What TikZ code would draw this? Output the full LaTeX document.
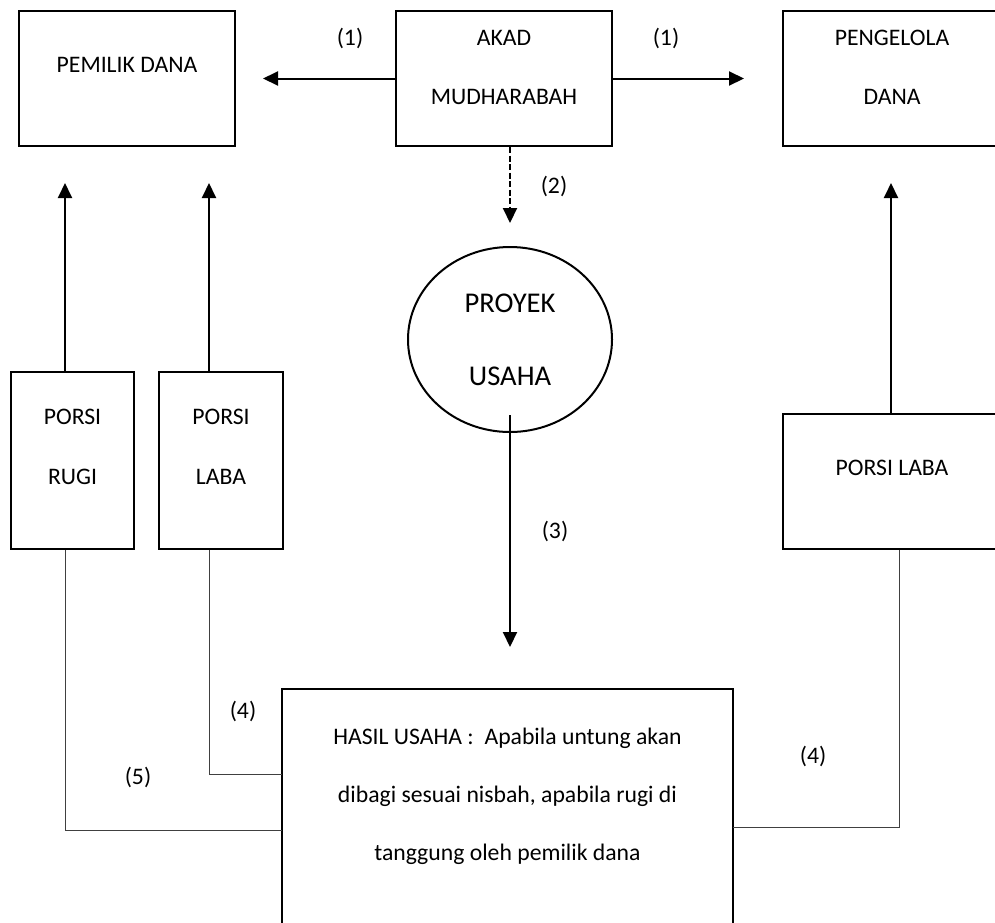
\documentclass[tikz,border=0pt]{standalone}
\usepackage{fontspec}
\setmainfont{Carlito}
\usetikzlibrary{arrows.meta,shapes.geometric}
\tikzset{
  boxnode/.style={draw=black, line width=2pt, rectangle, inner sep=0pt, minimum width=#1},
  ovalnode/.style={draw=black, line width=2pt, ellipse, inner sep=0pt},
  txt/.style={anchor=base, inner sep=0pt, font=\fontsize{23.7}{28}\selectfont},
  bigtxt/.style={anchor=base, inner sep=0pt, font=\fontsize{28.6}{34}\selectfont},
  arr/.style={line width=2pt, -{Triangle[length=15pt,width=14pt]}},
  darr/.style={line width=2pt, dash pattern=on 6pt off 2.5pt, -{Triangle[length=15pt,width=14pt]}},
  thinline/.style={line width=1pt, draw=black!75}
}
\begin{document}
\begin{tikzpicture}[x=1pt,y=-1pt]
\useasboundingbox (0,0) rectangle (995,922);
\clip (0,0) rectangle (995,922);
\fill[white] (0,0) rectangle (995,922);

% boxes
\node[boxnode=216pt, minimum height=135pt] (pemilik) at (127,78.5) {};
\node[boxnode=216pt, minimum height=135pt] (akad) at (504,78.5) {};
\node[boxnode=218pt, minimum height=135pt] (pengelola) at (892,78.5) {};
\node[ovalnode, minimum width=204pt, minimum height=185pt] (proyek) at (510,339.5) {};
\node[boxnode=123pt, minimum height=177pt] (rugi) at (72.5,460.5) {};
\node[boxnode=124pt, minimum height=177pt] (labakiri) at (221,460.5) {};
\node[boxnode=218pt, minimum height=135pt] (labakanan) at (892,481.5) {};
\node[boxnode=451pt, minimum height=271pt] (hasil) at (507.5,824.5) {};

% texts
\node[txt] (tpemilik) at (127,72.7) {PEMILIK DANA};
\node[txt] (takad1) at (504,45.7) {AKAD};
\node[txt] (takad2) at (504,104.7) {MUDHARABAH};
\node[txt] (tpeng1) at (892,45.7) {PENGELOLA};
\node[txt] (tpeng2) at (892,104.7) {DANA};
\node[bigtxt] (tproy1) at (510,312.2) {PROYEK};
\node[bigtxt] (tproy2) at (510,385.2) {USAHA};
\node[txt] (trugi1) at (72.5,424.7) {PORSI};
\node[txt] (trugi2) at (72.5,484.7) {RUGI};
\node[txt] (tlaba1) at (221,424.7) {PORSI};
\node[txt] (tlaba2) at (221,484.7) {LABA};
\node[txt] (tlabar) at (892,475.7) {PORSI LABA};
\node[txt] (thasil1) at (507.5,744.7) {HASIL USAHA :\ \ Apabila untung akan};
\node[txt] (thasil2) at (507.5,802.7) {dibagi sesuai nisbah, apabila rugi di};
\node[txt] (thasil3) at (507.5,860.7) {tanggung oleh pemilik dana};

% connector labels
\node[txt] (l1a) at (350,45.7) {(1)};
\node[txt] (l1b) at (666,45.7) {(1)};
\node[txt] (l2) at (554,193.7) {(2)};
\node[txt] (l3) at (555,538.7) {(3)};
\node[txt] (l4a) at (243,718.7) {(4)};
\node[txt] (l5) at (138,784.7) {(5)};
\node[txt] (l4b) at (813,763.7) {(4)};

% coordinates
\coordinate (tipL) at (263,78.5);
\coordinate (tipR) at (744,78.5);
\coordinate (tip2) at (510,223);
\coordinate (start3) at (510,415);
\coordinate (tip3) at (510,647);
\coordinate (tipRugi) at (65,183);
\coordinate (tipLabaK) at (209,183);
\coordinate (tipLabaR) at (891,183);
\coordinate (jRugi) at (282,830);
\coordinate (jLaba) at (282,774);
\coordinate (jLabaR) at (733,827);
\coordinate (xRugi) at (65,0);
\coordinate (xLaba) at (209,0);
\coordinate (xLabaR) at (899,0);

% arrows
\draw[arr] (akad.west) -- (tipL);
\draw[arr] (akad.east) -- (tipR);
\draw[darr] (akad.south -| tip2) -- (tip2);
\draw[arr] (start3) -- (tip3);
\draw[arr] (rugi.north -| tipRugi) -- (tipRugi);
\draw[arr] (labakiri.north -| tipLabaK) -- (tipLabaK);
\draw[arr] (labakanan.north -| tipLabaR) -- (tipLabaR);

% thin connectors
\draw[thinline] (rugi.south -| xRugi) |- (jRugi);
\draw[thinline] (labakiri.south -| xLaba) |- (jLaba);
\draw[thinline] (labakanan.south -| xLabaR) |- (jLabaR);
\end{tikzpicture}
\end{document}
